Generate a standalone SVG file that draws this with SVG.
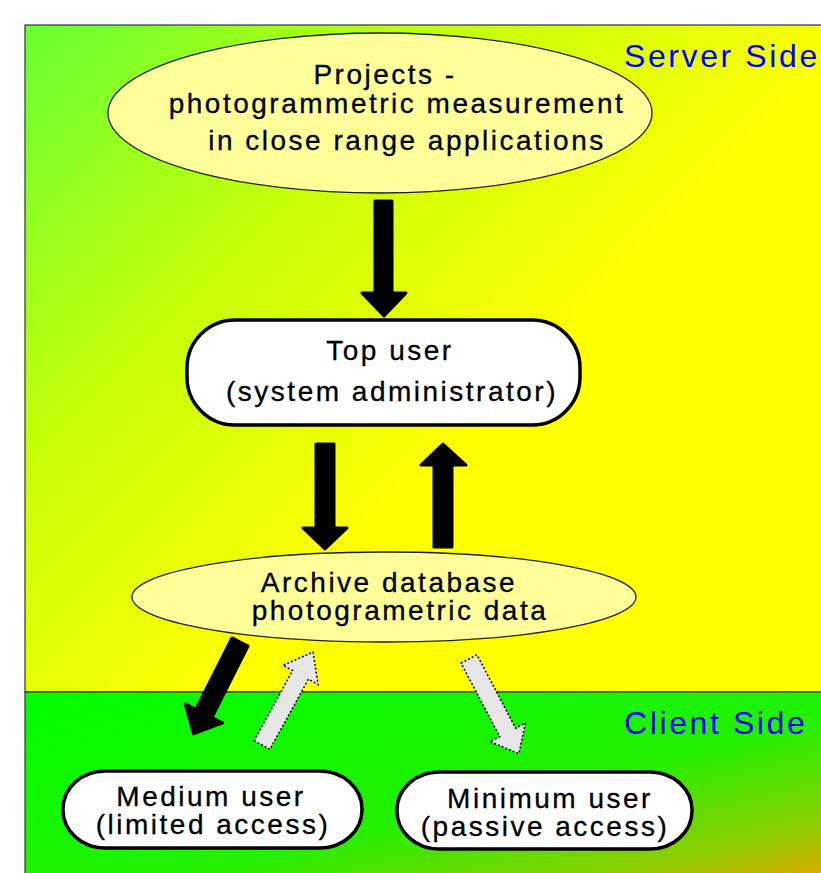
<svg xmlns="http://www.w3.org/2000/svg" width="821" height="873" viewBox="0 0 821 873">
<defs>
<linearGradient id="gServer" gradientUnits="userSpaceOnUse" x1="25" y1="25" x2="450" y2="450">
<stop offset="0" stop-color="#66ff33"/>
<stop offset="0.5" stop-color="#c4ff0a"/>
<stop offset="1" stop-color="#ffff00"/>
</linearGradient>
<linearGradient id="gClient" x1="0" y1="0" x2="1" y2="1">
<stop offset="0" stop-color="#00ff00"/>
<stop offset="0.55" stop-color="#22f000"/>
<stop offset="0.82" stop-color="#90cc00"/>
<stop offset="1" stop-color="#ff9900"/>
</linearGradient>
<style>
.lbl{font-family:"Liberation Sans",Arial,sans-serif;font-size:28px;letter-spacing:2.5px;fill:#000;stroke:#000;stroke-width:0.3;text-anchor:middle}
.side{font-family:"Liberation Sans",Arial,sans-serif;font-size:32px;letter-spacing:2.6px;fill:#0000ff}
.ell{fill:#ffff99;stroke:#222;stroke-width:1.3}
.box{fill:#fff;stroke:#000;stroke-width:3.5}
.solid{fill:#000;stroke:#000;stroke-width:3;stroke-linejoin:round}
.dash{fill:#e6e6e6;stroke:#000;stroke-width:1.5;stroke-dasharray:2 2}
</style>
</defs>
<rect x="25" y="25" width="820" height="667" fill="url(#gServer)" stroke="#333" stroke-width="1.2"/>
<rect x="25" y="692" width="820" height="200" fill="url(#gClient)" stroke="#333" stroke-width="1.2"/>
<text class="side" x="624" y="67">Server Side</text>
<text class="side" x="624" y="734" letter-spacing="2.2">Client Side</text>
<g id="projects">
<ellipse class="ell" cx="380" cy="113" rx="272" ry="80"/>
<text class="lbl" x="385" y="84">Projects -</text>
<text class="lbl" x="397" y="113">photogrammetric measurement</text>
<text class="lbl" x="407" y="150">in close range applications</text>
</g>
<g id="topuser">
<rect class="box" x="187" y="320" width="393" height="105" rx="48" ry="48"/>
<text class="lbl" x="390" y="360">Top user</text>
<text class="lbl" x="392" y="401">(system administrator)</text>
</g>
<g id="archive">
<ellipse class="ell" cx="384" cy="597" rx="252" ry="45"/>
<text class="lbl" x="389" y="592">Archive database</text>
<text class="lbl" x="400" y="620">photogrametric data</text>
</g>
<g id="medium">
<rect class="box" x="63" y="771" width="299" height="77" rx="42" ry="38"/>
<text class="lbl" x="211" y="806">Medium user</text>
<text class="lbl" x="213" y="834">(limited access)</text>
</g>
<g id="minimum">
<rect class="box" x="397" y="772" width="295" height="77" rx="42" ry="38"/>
<text class="lbl" x="550" y="808">Minimum user</text>
<text class="lbl" x="545" y="836">(passive access)</text>
</g>
<g id="connectors">
<polygon class="solid" points="375,201 392,201 392,293 406,293 384,316 362,293 375,293"/>
<polygon class="solid" points="316,444 334,444 334,528 347,528 325,549 303,528 316,528"/>
<polygon class="solid" points="434,547 452,547 452,465 466,465 443,444 421,465 434,465"/>
<polygon class="solid" transform="translate(240,642) rotate(26.8)" points="-9,0 9,0 9,80 21,80 0,103 -21,80 -9,80"/>
<polygon class="dash" transform="translate(262,745) rotate(28.8)" points="-9,0 9,0 9,-80 20,-80 0,-106 -20,-80 -9,-80"/>
<polygon class="dash" transform="translate(469,659) rotate(-27.8)" points="-9,0 9,0 9,83 20,83 0,107 -20,83 -9,83"/>
</g>
</svg>
